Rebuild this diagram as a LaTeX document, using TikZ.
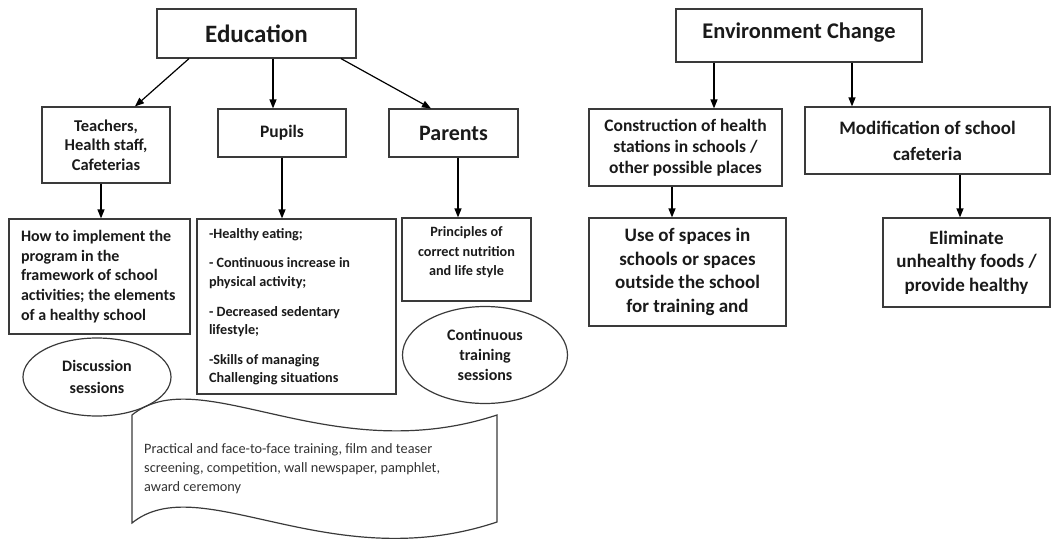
\documentclass[tikz,border=0pt]{standalone}
\usepackage{fontspec}
\setmainfont{Carlito}
\usetikzlibrary{arrows.meta,shapes.geometric,calc}
\definecolor{linec}{HTML}{3A3A3A}
\definecolor{txt}{HTML}{1A1A1A}
\definecolor{wtxt}{HTML}{333333}
\newcommand{\myfs}[2]{\fontsize{#1}{#2}\selectfont}
\begin{document}
\begin{tikzpicture}[x=1pt,y=-1pt,
  box/.style={draw=linec, line width=1.2pt, rectangle, inner sep=0pt, align=center, text=txt},
  oval/.style={draw=linec, line width=1.2pt, ellipse, inner sep=0pt, align=center, text=txt},
  arr/.style={draw=black, line width=1.2pt, -{Triangle[length=9pt,width=7pt]}},
  wavebox/.style={draw=linec, line width=1.2pt}]
\useasboundingbox (0,0) rectangle (1052,543);

% Education branch
\node[box, minimum width=199pt, minimum height=49pt, font=\bfseries\myfs{25}{30}] (edu) at (256.5,33.5) {Education};
\node[box, minimum width=128pt, minimum height=76pt, font=\bfseries\myfs{16.5}{19.5}] (tea) at (106,145) {Teachers,\\Health staff,\\Cafeterias};
\node[box, minimum width=128pt, minimum height=48pt, font=\bfseries\myfs{17.5}{21}] (pup) at (282,133) {Pupils};
\node[box, minimum width=129pt, minimum height=48pt, font=\bfseries\myfs{22}{26}] (par) at (453.5,133) {Parents};

\node[box, minimum width=181pt, minimum height=115pt, text width=157pt, inner xsep=12pt, align=flush left, font=\bfseries\myfs{16}{19.7}] (how) at (99.5,276.5)
  {How to implement the\\program in the\\framework of school\\activities; the elements\\of a healthy school};
\node[box, minimum width=199pt, minimum height=175pt, text width=175pt, inner xsep=12pt, align=flush left, font=\bfseries\myfs{14.2}{18.3}] (lst) at (296.5,306.5)
  {-Healthy eating;\\[11.5pt]- Continuous increase in\\physical activity;\\[11.5pt]- Decreased sedentary\\lifestyle;\\[11.5pt]-Skills of managing\\Challenging situations};
\node[box, font=\bfseries\myfs{14.2}{19.5}] (pri) at (466.5,259.5)
  {\parbox[c][83pt][t]{129pt}{\centering\vspace{9pt}Principles of\\correct nutrition\\and life style}};

\node[oval, minimum width=148pt, minimum height=78pt, font=\bfseries\myfs{16}{22}] (dis) at (97,377) {Discussion\\sessions};
\node[oval, minimum width=165pt, minimum height=97pt, font=\bfseries\myfs{16}{20}] (con) at (485,355) {Continuous\\training\\sessions};

\draw[wavebox] (132,415) .. controls (200,360) and (330,470) .. (497,415) -- (497,522) .. controls (330,578) and (200,468) .. (132,523) -- cycle;
\node[anchor=north west, inner sep=0pt, align=flush left, text=wtxt, font=\myfs{14.3}{19}] (wtx) at (144,443)
  {Practical and face-to-face training, film and teaser\\screening, competition, wall newspaper, pamphlet,\\award ceremony};

% Environment branch
\node[box, font=\bfseries\myfs{22.4}{26}] (env) at (799,35.5)
  {\parbox[c][53pt][t]{246pt}{\centering\vspace{14pt}Environment Change}};
\node[box, minimum width=193pt, minimum height=77pt, font=\bfseries\myfs{17.5}{21}] (cst) at (685.5,147.5) {Construction of health\\stations in schools /\\other possible places};
\node[box, minimum width=245pt, minimum height=67pt, font=\bfseries\myfs{19}{26}] (mod) at (927.5,140.5) {Modification of school\\cafeteria};
\node[box, minimum width=197pt, minimum height=108pt, font=\bfseries\myfs{19}{23.5}] (use) at (687.5,272) {Use of spaces in\\schools or spaces\\outside the school\\for training and};
\node[box, minimum width=167pt, minimum height=89pt, font=\bfseries\myfs{19}{23.5}] (eli) at (966.5,262.5) {Eliminate\\unhealthy foods /\\provide healthy};

% connectors
\draw[arr] ([xshift=-67.5pt]edu.south) -- ([xshift=29pt]tea.north);
\draw[arr] ([xshift=16.5pt]edu.south) -- ([xshift=16.5pt]edu.south |- pup.north);
\draw[arr] ([xshift=84.5pt]edu.south) -- ([xshift=-22.5pt]par.north);
\draw[arr] ([xshift=-5pt]tea.south) -- ([xshift=-5pt]tea.south |- how.north);
\draw[arr] (pup.south) -- (pup.south |- lst.north);
\draw[arr] ([xshift=4.5pt]par.south) -- ([xshift=4.5pt]par.south |- pri.north);
\draw[arr] ([xshift=-85pt]env.south) -- ([xshift=-85pt]env.south |- cst.north);
\draw[arr] ([xshift=53pt]env.south) -- ([xshift=53pt]env.south |- mod.north);
\draw[arr] ([xshift=-13.5pt]cst.south) -- ([xshift=-13.5pt]cst.south |- use.north);
\draw[arr] ([xshift=32.5pt]mod.south) -- ([xshift=32.5pt]mod.south |- eli.north);
\end{tikzpicture}
\end{document}
